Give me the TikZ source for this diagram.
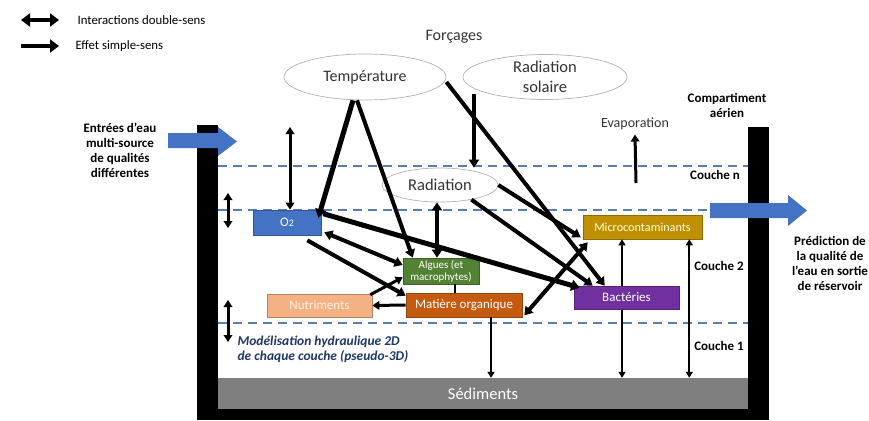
\documentclass[tikz,border=0pt]{standalone}
\usepackage{fontspec}
\setmainfont{Carlito}
\usepackage{tikz}
\usetikzlibrary{arrows.meta,shapes.geometric,positioning}

\definecolor{oxyblue}{HTML}{4472C4}
\definecolor{algaegreen}{HTML}{548235}
\definecolor{nutrorange}{HTML}{F4B183}
\definecolor{orgbrown}{HTML}{C55A11}
\definecolor{microgold}{HTML}{BF9000}
\definecolor{bactpurple}{HTML}{7030A0}
\definecolor{layerblue}{HTML}{5A7FAF}
\definecolor{notenavy}{HTML}{1F3864}
\definecolor{sedgray}{HTML}{7F7F7F}

\tikzset{
  forcing/.style={ellipse, draw=gray!60, fill=white, line width=0.7pt,
    inner sep=0pt, font=\fontsize{16.5}{18}\selectfont, text=black!80},
  compbox/.style={rectangle, draw=#1!75!black, fill=#1, line width=0.6pt,
    inner sep=0pt, text=white, font=\fontsize{13}{14}\selectfont},
  sidelabel/.style={font=\bfseries\fontsize{13}{15}\selectfont, align=center},
  heavy/.style={line width=5pt, >={Triangle[length=8.5pt,width=11pt]}},
  medium/.style={line width=4pt, >={Triangle[length=8pt,width=10pt]}},
  light/.style={line width=3pt, >={Triangle[length=7pt,width=8.5pt]}},
  fine/.style={line width=2pt, >={Triangle[length=6pt,width=7pt]}},
  layer/.style={color=layerblue, line width=1.3pt, dash pattern=on 9pt off 6pt},
  wall/.style={fill=black}
}

\begin{document}
\begin{tikzpicture}[x=1pt,y=-1pt,->,>=Triangle]
  \useasboundingbox (0,0) rectangle (869,420);

  % legend
  \coordinate (dbla) at (21,20);
  \coordinate (dblb) at (59,20);
  \coordinate (sgla) at (21,46);
  \coordinate (sglb) at (59,46);
  \node[anchor=west, font=\fontsize{12.8}{14}\selectfont] (dbltext) at (74,20) {Interactions double-sens};
  \node[anchor=west, font=\fontsize{12.8}{14}\selectfont] (sgltext) at (72,46) {Effet simple-sens};
  \draw[line width=4.5pt,<->,>={Triangle[length=9pt,width=13pt]}] (dbla) -- (dblb);
  \draw[line width=4.5pt,>={Triangle[length=9pt,width=13pt]}] (sgla) -- (sglb);

  % reservoir
  \fill[wall] (197,125) rectangle (218,420);
  \fill[wall] (748,127) rectangle (769,420);
  \fill[wall] (197,409) rectangle (769,420);
  \node[rectangle, fill=sedgray, minimum width=530pt, minimum height=31pt,
        inner sep=0pt, text=white, font=\fontsize{16.5}{18}\selectfont] (sed) at (483,393.5) {Sédiments};
  \draw[layer,-] (218,166) -- (748,166);
  \draw[layer,-] (218,210) -- (710,210);
  \draw[layer,-] (218,323) -- (748,323);

  % water in / out
  \fill[oxyblue] (168,133) -- (218,133) -- (218,127) -- (237,141.5) -- (218,156)
                 -- (218,148) -- (168,148) -- cycle;
  \fill[oxyblue] (710,203) -- (788,203) -- (788,195) -- (807,210.5) -- (788,226)
                 -- (788,218) -- (710,218) -- cycle;

  % texts
  \node[font=\fontsize{16}{18}\selectfont, text=black!80] (forc) at (454,37) {Forçages};
  \node[sidelabel] (inflow) at (120,150) {Entrées d’eau\\multi-source\\de qualités\\différentes};
  \node[sidelabel] (aerial) at (727,105) {Compartiment\\aérien};
  \node[sidelabel] (outflow) at (830,263) {Prédiction de\\la qualité de\\l’eau en sortie\\de réservoir};
  \node[sidelabel] (layern) at (715,175) {Couche n};
  \node[sidelabel] (layer2) at (719,266) {Couche 2};
  \node[sidelabel] (layer1) at (719,346) {Couche 1};
  \node[font=\fontsize{14}{16}\selectfont, text=black!80] (evap) at (635,124) {Evaporation};
  \node[anchor=west, align=left, text=notenavy,
        font=\bfseries\itshape\fontsize{13.5}{15}\selectfont] (hydro) at (234,349)
        {Modélisation hydraulique 2D\\de chaque couche (pseudo-3D)};

  % forcings
  \node[forcing, minimum width=162pt, minimum height=46pt,
        font=\fontsize{16}{18}\selectfont] (temp) at (365,77) {Température};
  \node[forcing, minimum width=164pt, minimum height=45pt, align=center,
        font=\fontsize{16.5}{20}\selectfont] (solar) at (545,77) {Radiation\\solaire};
  \node[forcing, minimum width=116pt, minimum height=34pt] (rad) at (440,185) {Radiation};

  % compartments
  \node[compbox=oxyblue, minimum width=68pt, minimum height=25pt] (o2) at (287,222.5) {O{\fontsize{10}{10}\selectfont 2}};
  \node[compbox=algaegreen, minimum width=76pt, minimum height=26pt, align=center,
        font=\fontsize{11}{12}\selectfont] (algae) at (441,271) {Algues (et\\macrophytes)};
  \node[compbox=nutrorange, minimum width=105pt, minimum height=23pt,
        text=orange!10] (nutr) at (319.5,305.5) {Nutriments};
  \node[compbox=orgbrown, minimum width=116pt, minimum height=24pt] (mo) at (464,305) {Matière organique};
  \node[compbox=microgold, minimum width=119pt, minimum height=24pt,
        text=yellow!15, font=\fontsize{12.2}{13}\selectfont] (micro) at (642.5,227) {Microcontaminants};

  % exchanges with the sediments
  \draw[fine,<->] ([xshift=-20.5pt]micro.south) -- ([xshift=-20.5pt]micro.south |- sed.north);
  \draw[fine,<->] ([xshift=-13pt]micro.south east) -- ([xshift=-13pt]micro.south east |- sed.north);
  \draw[fine] ([xshift=27pt]mo.south) -- ([xshift=27pt]mo.south |- sed.north);

  \node[compbox=bactpurple, minimum width=105pt, minimum height=23pt] (bact) at (626.5,297.5) {Bactéries};

  % vertical exchanges
  \coordinate (o2air) at (290,127);
  \coordinate (evapbot) at (636,183);
  \coordinate (mixa) at (228,193);
  \coordinate (mixb) at (228,228);
  \coordinate (mixc) at (228,300);
  \coordinate (mixd) at (228,342);
  \draw[light,<->] ([xshift=3pt]o2.north) -- (o2air);
  \draw[light] (evapbot) -- ([yshift=-1pt]evap.south);
  \draw[light,<->] (mixa) -- (mixb);
  \draw[light,<->] (mixc) -- (mixd);

  % forcing effects
  \draw[heavy] ([xshift=-12pt]temp.south) -- ([xshift=-3pt,yshift=-8pt]o2.north east);
  \draw[medium] ([xshift=-8pt]temp.south) -- ([xshift=10pt]algae.north west);
  \draw[medium] ([yshift=-5pt]temp.east) -- ([xshift=31pt]bact.north west);
  \draw[medium] ([xshift=-71pt,yshift=6pt]solar.south) -- ([xshift=34pt]rad.north);
  \draw[medium] (rad.east) -- ([xshift=-2pt,yshift=2pt]micro.south west);
  \draw[medium] (rad.-25) -- ([xshift=19pt]bact.north west);
  \draw[medium,<->] ([xshift=-3pt]rad.south) -- ([xshift=-4pt]algae.north);

  % interactions between compartments
  \draw[heavy] ([xshift=2pt,yshift=-4pt]o2.north east) -- ([xshift=6pt,yshift=-2pt]bact.north west);
  \draw[medium,<->] ([xshift=3pt,yshift=3pt]o2.south east) -- ([yshift=6pt]algae.west);
  \draw[medium] ([xshift=-14pt,yshift=-5pt]o2.south east) -- ([yshift=-3pt]mo.north west);
  \draw[light] ([xshift=-2pt,yshift=-1pt]nutr.north east) -- ([yshift=7pt]algae.south west);
  \draw[fine,-] ([xshift=14pt]algae.south) -- ([xshift=14pt]algae.south |- mo.north);
  \draw[light] (mo.west) -- (nutr.east);
  \draw[medium,<->] ([xshift=2pt,yshift=2pt]mo.south east) -- ([xshift=5pt,yshift=-3pt]micro.south west);
\end{tikzpicture}
\end{document}
